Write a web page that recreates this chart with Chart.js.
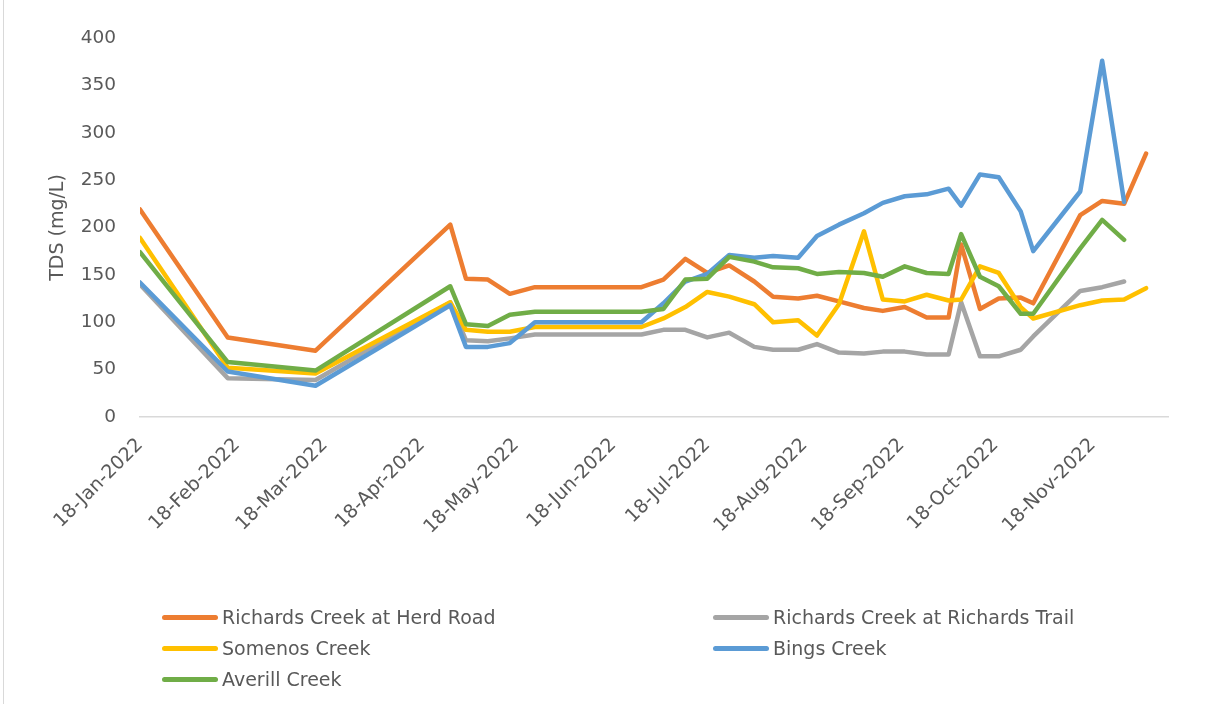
<!DOCTYPE html>
<html>
<head>
<meta charset="utf-8">
<title>TDS by site, 2022</title>
<script src="https://cdn.jsdelivr.net/npm/chart.js@4.4.1/dist/chart.umd.min.js"></script>
<style>
  html, body { margin: 0; padding: 0; background: #fff; }
  #wrap { position: relative; width: 1207px; height: 704px; overflow: hidden; }
  #chart { position: absolute; left: 0; top: 0; }
  #frame { position: absolute; left: 3px; top: 0; width: 1px; height: 704px; background: #d9d9d9; }
  .legend-item {
    position: absolute; display: flex; align-items: center; height: 24px; margin-top: -12px;
    font: 19px "DejaVu Sans", sans-serif; color: #595959; white-space: nowrap;
  }
  .legend-item .swatch { width: 56px; height: 5px; border-radius: 3px; margin-right: 4px; }
</style>
</head>
<body>
<div id="wrap">
  <canvas id="chart" width="1207" height="704"></canvas>
  <div id="legend"></div>
  <div id="frame"></div>
</div>
<script>
// Sampling dates (one entry per sampling run)
const sampleDates = [
  '2022-01-18', '2022-02-15', '2022-03-15', '2022-04-27', '2022-05-02', '2022-05-09',
  '2022-05-16', '2022-05-24', '2022-06-27', '2022-07-04', '2022-07-11', '2022-07-18',
  '2022-07-25', '2022-08-02', '2022-08-08', '2022-08-16', '2022-08-22', '2022-08-29',
  '2022-09-06', '2022-09-12', '2022-09-19', '2022-09-26', '2022-10-03', '2022-10-07',
  '2022-10-13', '2022-10-19', '2022-10-26', '2022-10-30', '2022-11-14', '2022-11-21',
  '2022-11-28', '2022-12-05'
];

// TDS (mg/L) per site, null where not sampled
const herdRoad = [219, 84, 70, 203, 146, 145, 130, 137, 137, 145, 167, 152, 160, 143, 127, 125,
  128, 122, 115, 112, 116, 105, 105, 182, 114, 125, 126, 120, 213, 228, 225, 278];
const richardsTrail = [140, 41, 39, 121, 81, 80, 83, 87, 87, 92, 92, 84, 89, 74, 71, 71,
  77, 68, 67, 69, 69, 66, 66, 121, 64, 64, 71, 85, 133, 137, 143, null];
const somenos = [189, 52, 46, 121, 92, 90, 90, 95, 95, 104, 116, 132, 127, 119, 100, 102,
  86, 119, 196, 124, 122, 129, 123, 124, 159, 152, 116, 104, 118, 123, 124, 136];
const bings = [142, 48, 33, 118, 74, 74, 78, 100, 100, 120, 143, 151, 171, 168, 170, 168,
  191, 203, 215, 226, 233, 235, 241, 223, 256, 253, 217, 175, 238, 376, 227, null];
const averill = [174, 58, 49, 138, 98, 96, 108, 111, 111, 114, 145, 146, 169, 164, 158, 157,
  151, 153, 152, 148, 159, 152, 151, 193, 148, 138, 109, 109, 178, 208, 187, null];

const siteNames = [
  'Richards Creek at Herd Road',
  'Richards Creek at Richards Trail',
  'Somenos Creek',
  'Bings Creek',
  'Averill Creek'
];
const siteColors = ['#ED7D31', '#A5A5A5', '#FFC000', '#5B9BD5', '#70AD47'];

// Axis tick dates and y range
const tickDates = [
  '2022-01-18', '2022-02-18', '2022-03-18', '2022-04-18', '2022-05-18', '2022-06-18',
  '2022-07-18', '2022-08-18', '2022-09-18', '2022-10-18', '2022-11-18'
];
const monthNames = ['Jan', 'Feb', 'Mar', 'Apr', 'May', 'Jun', 'Jul', 'Aug', 'Sep', 'Oct', 'Nov', 'Dec'];
const yMax = 400;
const yStep = 50;

const textColor = '#595959';
const fontFamily = '"DejaVu Sans", sans-serif';
const DAY = 86400000;
const origin = Date.parse(sampleDates[0]);
const toDay = s => Math.round((Date.parse(s) - origin) / DAY);

function formatDay(d) {
  const dt = new Date(origin + d * DAY);
  return String(dt.getUTCDate()).padStart(2, '0') + '-' + monthNames[dt.getUTCMonth()] + '-' + dt.getUTCFullYear();
}

const seriesValues = [herdRoad, richardsTrail, somenos, bings, averill];
const tickDays = tickDates.map(toDay);

const datasets = seriesValues.map((values, i) => ({
  label: siteNames[i],
  data: values.map((v, j) => ({ x: toDay(sampleDates[j]), y: v })),
  borderColor: siteColors[i],
  backgroundColor: siteColors[i],
  borderWidth: 4.5,
  borderJoinStyle: 'round',
  borderCapStyle: 'round',
  pointRadius: 0,
  tension: 0,
  // later sites are painted on top
  order: seriesValues.length - i
}));

const chart = new Chart(document.getElementById('chart'), {
  type: 'line',
  data: { datasets },
  options: {
    responsive: false,
    animation: false,
    layout: { padding: { left: 0, right: 39, top: 38, bottom: 157 } },
    plugins: { legend: { display: false }, tooltip: { enabled: false } },
    scales: {
      x: {
        type: 'linear',
        min: 0,
        max: 328,
        grid: { display: false, drawTicks: false },
        border: { display: true, color: '#d9d9d9', width: 1.5 },
        afterBuildTicks: scale => { scale.ticks = tickDays.map(v => ({ value: v })); },
        afterFit: scale => { scale.height = 130; },
        ticks: {
          autoSkip: false,
          minRotation: 45,
          maxRotation: 45,
          padding: 17,
          color: textColor,
          font: { family: fontFamily, size: 19 },
          callback: v => formatDay(v)
        }
      },
      y: {
        min: 0,
        max: yMax,
        grid: { display: false, drawTicks: false },
        border: { display: false },
        afterFit: scale => { scale.width = 140; },
        ticks: {
          stepSize: yStep,
          padding: 24,
          color: textColor,
          font: { family: fontFamily, size: 18.5 }
        },
        title: {
          display: true,
          text: 'TDS (mg/L)',
          color: textColor,
          font: { family: fontFamily, size: 19 },
          padding: { top: 47, bottom: 0 }
        }
      }
    }
  }
});

// Two-column legend under the plot, in dataset order
const legendSlots = [
  { left: 162, top: 617 }, { left: 713, top: 617 },
  { left: 162, top: 648 }, { left: 713, top: 648 },
  { left: 162, top: 679 }
];
const legendEl = document.getElementById('legend');
chart.data.datasets.forEach((ds, i) => {
  const item = document.createElement('div');
  item.className = 'legend-item';
  item.style.left = legendSlots[i].left + 'px';
  item.style.top = legendSlots[i].top + 'px';
  const sw = document.createElement('span');
  sw.className = 'swatch';
  sw.style.background = ds.borderColor;
  const label = document.createElement('span');
  label.textContent = ds.label;
  item.appendChild(sw);
  item.appendChild(label);
  legendEl.appendChild(item);
});
</script>
</body>
</html>
